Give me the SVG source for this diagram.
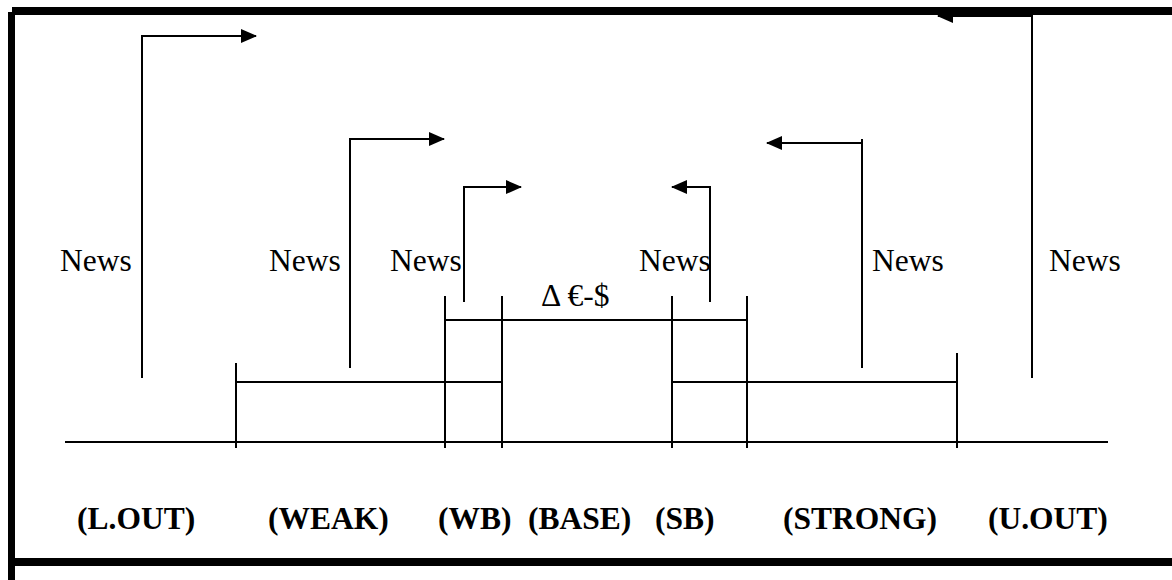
<svg xmlns="http://www.w3.org/2000/svg" width="1172" height="580" viewBox="0 0 1172 580">
<style>
.ln{stroke:#000;stroke-width:2;fill:none}
.arr{stroke:#000;stroke-width:2;fill:none;marker-end:url(#ah)}
.news{font-family:"Liberation Serif","Times New Roman",serif;font-size:31.5px;fill:#000}
.lab{font-family:"Liberation Serif","Times New Roman",serif;font-size:31.5px;font-weight:bold;fill:#000}
.border{stroke:#000;fill:none}
</style>
<defs>
<marker id="ah" markerUnits="userSpaceOnUse" markerWidth="16" markerHeight="16" viewBox="0 0 16 16" refX="15" refY="8" orient="auto">
<path d="M0,1 L16,8 L0,15 Z" fill="#000"/>
</marker>
</defs>
<rect width="1172" height="580" fill="#fff"/>
<g id="connectors">
<path class="arr" d="M142,378 V36 H256"/>
<path class="arr" d="M350,368 V139 H444"/>
<path class="arr" d="M464,302 V187 H521"/>
<path class="arr" d="M710,302 V187 H672"/>
<path class="arr" d="M862,368 V143 H767"/>
<path class="ln" d="M862,139 V144"/>
<path class="arr" d="M1032,378 V16 H938"/>
</g>
<g id="scale">
<line class="ln" x1="65" y1="442" x2="1108" y2="442"/>
<line class="ln" x1="236" y1="363" x2="236" y2="448"/>
<line class="ln" x1="445" y1="296" x2="445" y2="448"/>
<line class="ln" x1="502" y1="296" x2="502" y2="448"/>
<line class="ln" x1="672" y1="296" x2="672" y2="448"/>
<line class="ln" x1="747" y1="296" x2="747" y2="448"/>
<line class="ln" x1="957" y1="353" x2="957" y2="448"/>
<line class="ln" x1="236" y1="382" x2="502" y2="382"/>
<line class="ln" x1="672" y1="382" x2="957" y2="382"/>
<line class="ln" x1="445" y1="320" x2="747" y2="320"/>
</g>
<g id="news-labels">
<text class="news" x="60" y="271">News</text>
<text class="news" x="269" y="271">News</text>
<text class="news" x="390" y="271">News</text>
<text class="news" x="639" y="271">News</text>
<text class="news" x="872" y="271">News</text>
<text class="news" x="1049" y="271">News</text>
<text id="delta" class="news" x="541" y="306">Δ €-$</text>
</g>
<g id="zone-labels">
<text id="lout" class="lab" x="77" y="529">(L.OUT)</text>
<text id="weak" class="lab" x="268" y="529">(WEAK)</text>
<text id="wb" class="lab" x="438" y="529">(WB)</text>
<text id="base" class="lab" x="528" y="529">(BASE)</text>
<text id="sb" class="lab" x="655" y="529">(SB)</text>
<text id="strong" class="lab" x="783" y="529">(STRONG)</text>
<text id="uout" class="lab" x="988" y="529">(U.OUT)</text>
</g>
<g id="frame">
<path class="border" stroke-width="8" d="M12,11 H1172"/>
<path class="border" stroke-width="7" d="M11.5,12 V580"/>
<path class="border" stroke-width="8" d="M8,562 H1172"/>
</g>
</svg>
